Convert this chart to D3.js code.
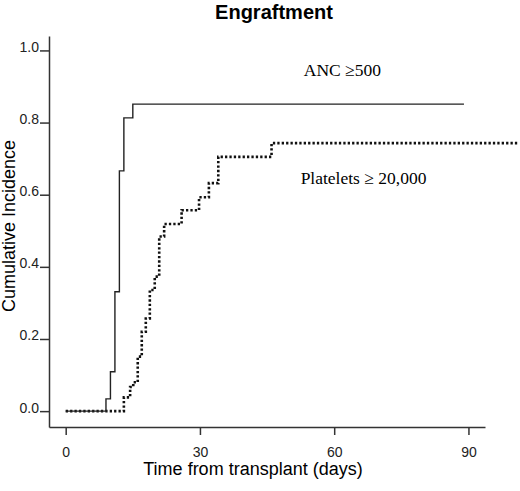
<!DOCTYPE html>
<html>
<head>
<meta charset="utf-8">
<script src="https://cdn.jsdelivr.net/npm/d3@7"></script>
<style>
  body { margin:0; background:#fff; }
  svg { display:block; }
</style>
</head>
<body>
<div id="chart"></div>
<script>
// cumulative incidence steps
var ancDays   = [0, 9, 10, 11, 12, 13, 15, 89];
var ancValues = [0, 0.034, 0.109, 0.331, 0.666, 0.813, 0.851, 0.851];

var pltDays   = [0, 13, 14.4, 15.1, 16.1, 17.0, 17.9, 18.8, 19.9, 20.9, 22.0, 25.9, 29.8, 32.0, 34.1, 46.0, 101];
var pltValues = [0, 0.038, 0.067, 0.08, 0.151, 0.22, 0.257, 0.336, 0.373, 0.484, 0.519, 0.557, 0.593, 0.632, 0.705, 0.743, 0.743];

var xTicks = [0, 30, 60, 90];
var yTicks = [0, 0.2, 0.4, 0.6, 0.8, 1.0];

var width = 520, height = 491;

var svg = d3.select("#chart").append("svg")
    .attr("width", width)
    .attr("height", height);

var x = d3.scaleLinear().domain([-3.73, 93.7]).range([49, 485]);
var y = d3.scaleLinear().domain([-0.044, 1.04]).range([427, 36]);

// title
svg.append("text")
    .attr("x", 274).attr("y", 18.5)
    .attr("text-anchor", "middle")
    .style("font-family", "Arial, 'Liberation Sans', sans-serif")
    .style("font-weight", "bold")
    .style("font-size", "20px")
    .text("Engraftment");

// axes
var yAxis = d3.axisLeft(y).tickValues(yTicks).tickFormat(d3.format(".1f"))
    .tickSize(9).tickSizeOuter(0).tickPadding(1);
var gy = svg.append("g").attr("transform", "translate(49,0)").call(yAxis);
gy.selectAll("text").attr("dy", 1);

var xAxis = d3.axisBottom(x).tickValues(xTicks).tickSize(8).tickSizeOuter(0);
var gx = svg.append("g").attr("transform", "translate(0,427)").call(xAxis);
gx.selectAll("text").attr("y", 30).attr("dy", 0);

svg.selectAll(".domain, .tick line")
    .attr("stroke", "#333")
    .attr("stroke-width", 1.5);
svg.selectAll(".tick text")
    .style("font-family", "Arial, 'Liberation Sans', sans-serif")
    .style("font-size", "14px")
    .attr("fill", "#222");

// axis titles
svg.append("text")
    .attr("x", 253).attr("y", 475)
    .attr("text-anchor", "middle")
    .style("font-family", "Arial, 'Liberation Sans', sans-serif")
    .style("font-size", "18px")
    .text("Time from transplant (days)");

svg.append("text")
    .attr("transform", "translate(15,226) rotate(-90)")
    .attr("text-anchor", "middle")
    .style("font-family", "Arial, 'Liberation Sans', sans-serif")
    .style("font-size", "18px")
    .text("Cumulative Incidence");

// step curves
var line = d3.line()
    .x(function(d){ return x(d[0]); })
    .y(function(d){ return y(d[1]); })
    .curve(d3.curveStepAfter);

svg.append("path")
    .datum(pltDays.map(function(d, i){ return [d, pltValues[i]]; }))
    .attr("d", line)
    .attr("fill", "none")
    .attr("stroke", "#111")
    .attr("stroke-width", 2.6)
    .attr("stroke-dasharray", "2.3,2.1");

svg.append("path")
    .datum(ancDays.map(function(d, i){ return [d, ancValues[i]]; }))
    .attr("d", line)
    .attr("fill", "none")
    .attr("stroke", "#222")
    .attr("stroke-width", 1.4);

// curve labels
svg.append("text")
    .attr("x", x(53.2)).attr("y", 76)
    .style("font-family", "'Times New Roman', 'Liberation Serif', serif")
    .style("font-size", "17.5px")
    .text("ANC \u2265500");

svg.append("text")
    .attr("x", x(52.5)).attr("y", 184)
    .style("font-family", "'Times New Roman', 'Liberation Serif', serif")
    .style("font-size", "17.5px")
    .text("Platelets \u2265 20,000");
</script>
</body>
</html>
